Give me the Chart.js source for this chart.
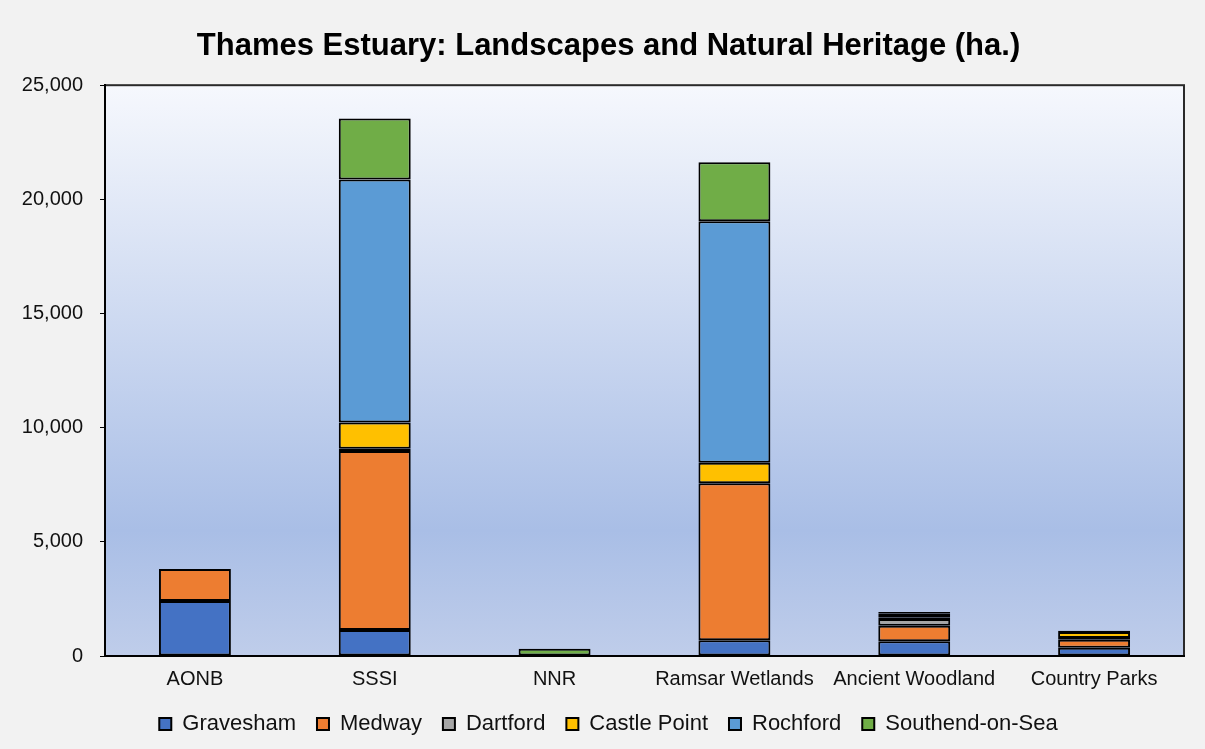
<!DOCTYPE html>
<html>
<head>
<meta charset="utf-8">
<script src="https://cdn.jsdelivr.net/npm/chart.js@4"></script>
<style>
  body { margin: 0; background: #f2f2f2; }
  #wrap { width: 1205px; height: 749px; }
</style>
</head>
<body>
<div id="wrap"><canvas id="EstuaryChart"></canvas></div>
<script>
// categories and values (ha.)
const categories = ["AONB", "SSSI", "NNR", "Ramsar Wetlands", "Ancient Woodland", "Country Parks"];
const gravesham   = [2410, 1140,   0,   690, 645, 360];
const medway      = [1400, 7840,   0,  6880, 680, 350];
const dartford    = [   0,  100,   0,     0, 300,  80];
const castlePoint = [   0, 1150,   0,   890,  70, 260];
const rochford    = [   0, 10640,  0, 10580, 150,   0];
const southend    = [   0, 2670, 320,  2580,  80,  60];
const yTicks = [0, 5000, 10000, 15000, 20000, 25000];

// plot background gradient + frame
const backgroundPlugin = {
    id: "plotBackground",
    beforeDraw(chart) {
        const { ctx, chartArea: a } = chart;
        ctx.save();
        ctx.fillStyle = "#f2f2f2";
        ctx.fillRect(0, 0, chart.width, chart.height);
        const g = ctx.createLinearGradient(0, a.top, 0, a.bottom);
        g.addColorStop(0, "#f6f8fd");
        g.addColorStop(0.78, "#a9bee6");
        g.addColorStop(1, "#bfcdea");
        ctx.fillStyle = g;
        ctx.fillRect(a.left, a.top, a.right - a.left, a.bottom - a.top);
        ctx.strokeStyle = "#2a2a2a";
        ctx.lineWidth = 2;
        ctx.strokeRect(a.left, a.top, a.right - a.left, a.bottom - a.top);
        ctx.restore();
    }
};

const ctx = document.getElementById("EstuaryChart").getContext("2d");

function ds(label, data, color) {
    return {
        label: label,
        data: data,
        backgroundColor: color,
        borderColor: "#000",
        borderWidth: 2,
        borderSkipped: false,
        barPercentage: 0.4,
        categoryPercentage: 1
    };
}

new Chart(ctx, {
    type: "bar",
    data: {
        labels: categories,
        datasets: [
            ds("Gravesham", gravesham, "#4472c4"),
            ds("Medway", medway, "#ed7d31"),
            ds("Dartford", dartford, "#a5a5a5"),
            ds("Castle Point", castlePoint, "#ffc000"),
            ds("Rochford", rochford, "#5b9bd5"),
            ds("Southend-on-Sea", southend, "#70ad47")
        ]
    },
    plugins: [backgroundPlugin],
    options: {
        responsive: true,
        maintainAspectRatio: false,
        animation: false,
        locale: "en-US",
        layout: { padding: { left: 12, right: 0, top: 0, bottom: 4 } },
        plugins: {
            title: {
                display: true,
                text: "Thames Estuary: Landscapes and Natural Heritage (ha.)",
                color: "#000",
                font: { family: "Liberation Sans, Arial, sans-serif", size: 31, weight: "bold" },
                padding: { top: 28, bottom: 20 }
            },
            legend: {
                position: "bottom",
                labels: {
                    color: "#111",
                    font: { family: "Liberation Sans, Arial, sans-serif", size: 22 },
                    boxWidth: 12,
                    boxHeight: 12,
                    padding: 21
                }
            },
            tooltip: { enabled: false }
        },
        scales: {
            x: {
                stacked: true,
                grid: { display: false, drawTicks: false },
                border: { color: "#000", width: 2 },
                ticks: { color: "#111", padding: 11, font: { family: "Liberation Sans, Arial, sans-serif", size: 20 } },
                afterFit(scale) { scale.height = 36; }
            },
            y: {
                stacked: true,
                min: 0,
                max: 25000,
                afterBuildTicks(scale) { scale.ticks = yTicks.map(v => ({ value: v })); },
                grid: { drawOnChartArea: false, drawTicks: true, tickLength: 5, color: "#000" },
                border: { color: "#000", width: 2 },
                ticks: { color: "#111", padding: 17, font: { family: "Liberation Sans, Arial, sans-serif", size: 20 } },
                afterFit(scale) { scale.width = 93; }
            },
            // empty spacer on the right so the title/legend stay centred like the original
            yRight: {
                type: "linear",
                position: "right",
                display: true,
                grid: { display: false, drawTicks: false },
                border: { display: false },
                ticks: { display: false },
                afterFit(scale) { scale.width = 21; }
            }
        }
    }
});
</script>
</body>
</html>
